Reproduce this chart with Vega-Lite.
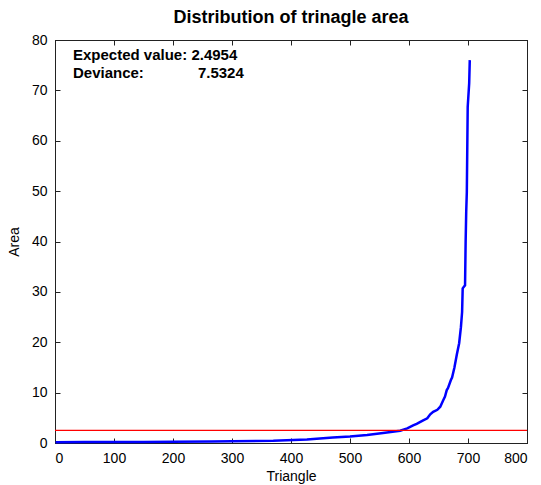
{
  "$schema": "https://vega.github.io/schema/vega-lite/v6.json",
  "autosize": {"type": "none"},
  "padding": {"left": 55, "top": 40, "right": 14, "bottom": 42},
  "width": 472,
  "height": 403,
  "background": "white",
  "title": {"text": "Distribution of trinagle area", "font": "Liberation Sans", "fontSize": 18, "fontWeight": "bold", "color": "black", "anchor": "middle", "offset": 6},
  "config": {
    "view": {"stroke": "black", "strokeWidth": 1},
    "axis": {"grid": false, "domainColor": "#222", "tickColor": "#222", "labelColor": "black", "titleColor": "black", "labelFont": "Liberation Sans", "titleFont": "Liberation Sans", "labelFontSize": 14, "labelFontWeight": "normal", "titleFontSize": 14, "titleFontWeight": "normal", "tickSize": -5, "labelPadding": 13}
  },
  "datasets": {
    "curve": [
      {"triangle": 1, "area": 0.15}, {"triangle": 50, "area": 0.18}, {"triangle": 100, "area": 0.2}, {"triangle": 150, "area": 0.22},
      {"triangle": 200, "area": 0.25}, {"triangle": 265, "area": 0.3}, {"triangle": 300, "area": 0.35}, {"triangle": 370, "area": 0.45},
      {"triangle": 427, "area": 0.7}, {"triangle": 471, "area": 1.1}, {"triangle": 500, "area": 1.3}, {"triangle": 529, "area": 1.6},
      {"triangle": 556, "area": 2.0}, {"triangle": 585, "area": 2.45}, {"triangle": 597, "area": 2.9}, {"triangle": 607, "area": 3.5},
      {"triangle": 613, "area": 3.8}, {"triangle": 624, "area": 4.5}, {"triangle": 631, "area": 4.9}, {"triangle": 636, "area": 5.7},
      {"triangle": 641, "area": 6.2}, {"triangle": 648, "area": 6.6}, {"triangle": 653, "area": 7.2}, {"triangle": 658, "area": 8.5},
      {"triangle": 661, "area": 9.2}, {"triangle": 664, "area": 10.5}, {"triangle": 666, "area": 10.9}, {"triangle": 671, "area": 12.5},
      {"triangle": 673, "area": 13}, {"triangle": 677, "area": 15}, {"triangle": 681, "area": 17.5}, {"triangle": 685, "area": 19.8},
      {"triangle": 688, "area": 23}, {"triangle": 690, "area": 26}, {"triangle": 691, "area": 30.7}, {"triangle": 695, "area": 31.3},
      {"triangle": 696, "area": 40}, {"triangle": 697, "area": 46}, {"triangle": 698, "area": 49.8}, {"triangle": 699.5, "area": 66.7},
      {"triangle": 702, "area": 71.4}, {"triangle": 703, "area": 76}
    ]
  },
  "layer": [
    {
      "data": {"name": "curve"},
      "mark": {"type": "line", "color": "#0000FF", "strokeWidth": 2.5},
      "encoding": {
        "x": {"field": "triangle", "type": "quantitative", "scale": {"domain": [0, 800], "nice": false, "zero": false},
              "axis": {"orient": "bottom", "title": "Triangle", "values": [0, 100, 200, 300, 400, 500, 600, 700, 800], "titlePadding": 4}},
        "y": {"field": "area", "type": "quantitative", "scale": {"domain": [0, 80], "nice": false},
              "axis": {"orient": "left", "title": "Area", "values": [0, 10, 20, 30, 40, 50, 60, 70, 80], "titlePadding": 10}}
      }
    },
    {
      "data": {"values": [{"expected": 2.4954}]},
      "mark": {"type": "rule", "color": "#FF0000", "strokeWidth": 1.2},
      "encoding": {
        "x": {"datum": 0, "type": "quantitative", "axis": {"orient": "top", "labels": false, "title": null, "values": [0, 100, 200, 300, 400, 500, 600, 700, 800]}},
        "x2": {"datum": 800},
        "y": {"field": "expected", "type": "quantitative", "axis": {"orient": "right", "labels": false, "title": null, "values": [0, 10, 20, 30, 40, 50, 60, 70, 80]}}
      }
    },
    {
      "data": {"values": [{"a": 1}]},
      "mark": {"type": "text", "font": "Liberation Sans", "fontSize": 15, "fontWeight": "bold", "align": "left", "baseline": "alphabetic", "color": "black"},
      "encoding": {"x": {"datum": 30.5, "type": "quantitative", "axis": null}, "y": {"datum": 76, "type": "quantitative", "axis": null}, "text": {"value": "Expected value: 2.4954"}}
    },
    {
      "data": {"values": [{"a": 1}]},
      "mark": {"type": "text", "font": "Liberation Sans", "fontSize": 15, "fontWeight": "bold", "align": "left", "baseline": "alphabetic", "color": "black"},
      "encoding": {"x": {"datum": 30.5, "type": "quantitative", "axis": null}, "y": {"datum": 72.4, "type": "quantitative", "axis": null}, "text": {"value": "Deviance:"}}
    },
    {
      "data": {"values": [{"a": 1}]},
      "mark": {"type": "text", "font": "Liberation Sans", "fontSize": 15, "fontWeight": "bold", "align": "right", "baseline": "alphabetic", "color": "black"},
      "encoding": {"x": {"datum": 320, "type": "quantitative", "axis": null}, "y": {"datum": 72.4, "type": "quantitative", "axis": null}, "text": {"value": "7.5324"}}
    }
  ],
  "resolve": {"axis": {"x": "independent", "y": "independent"}}
}
